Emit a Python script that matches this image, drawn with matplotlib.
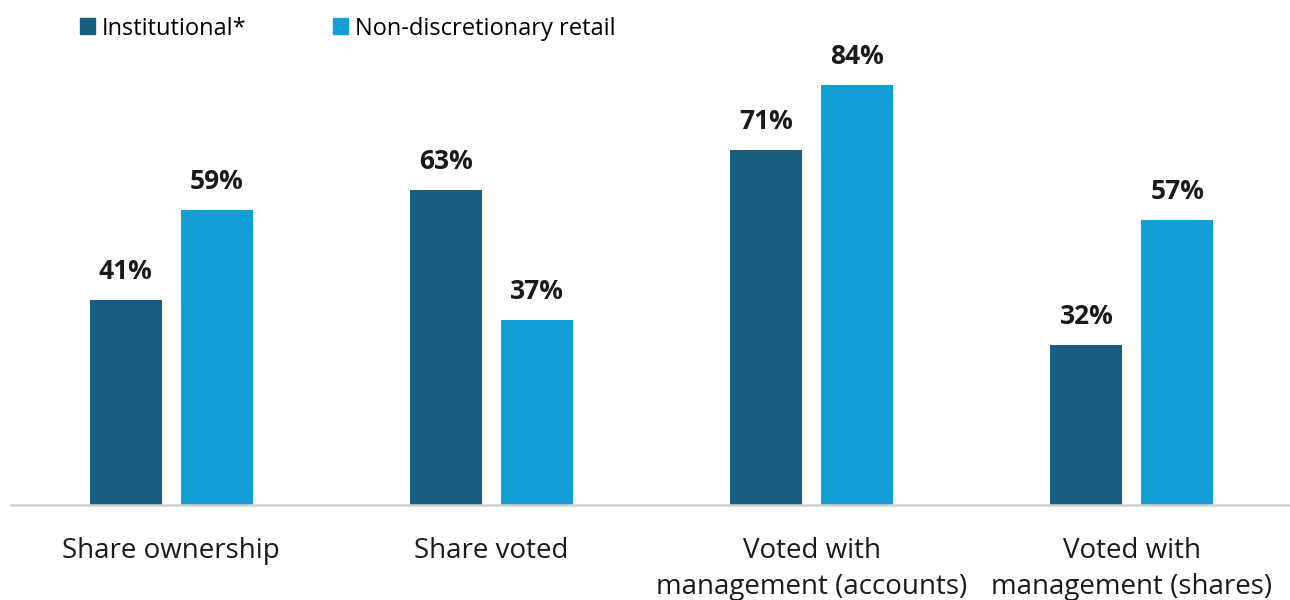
import matplotlib
matplotlib.use("Agg")
import matplotlib.pyplot as plt
import numpy as np
from matplotlib.patches import Patch

categories = ["Share ownership", "Share voted", "Voted with\nmanagement (accounts)", "Voted with\nmanagement (shares)"]
series_names = ["Institutional*", "Non-discretionary retail"]
institutional = [41, 63, 71, 32]
retail = [59, 37, 84, 57]
colors = ["#165F82", "#129FD7"]

plt.rcParams['font.family'] = ['Open Sans', 'DejaVu Sans']

fig = plt.figure(figsize=(12.9, 6.0), dpi=100)
ax = fig.add_axes([11/1290, 95/600, 1 - 11/1290 + 2/1290, 500/600])

x = np.arange(len(categories))
w = 0.225
off = 0.142
b1 = ax.bar(x - off, institutional, w, color=colors[0])
b2 = ax.bar(x + off, retail, w, color=colors[1])

for bars, vals in ((b1, institutional), (b2, retail)):
    for rect, v in zip(bars, vals):
        ax.annotate(f"{v}%", (rect.get_x() + rect.get_width() / 2, v),
                    xytext=(0, 11), textcoords="offset points",
                    ha="center", va="bottom", fontsize=19, fontweight="bold", color="#1a1a1a")

ax.set_xlim(-0.5, len(categories) - 0.5)
ax.set_ylim(0, 100)
ax.set_yticks([])
ax.set_xticks(x)
ax.set_xticklabels(categories, fontsize=20, color="#1a1a1a", linespacing=1.4)
ax.tick_params(axis="x", length=0, pad=23)
for s in ["top", "right", "left"]:
    ax.spines[s].set_visible(False)
ax.spines["bottom"].set_color("#D0D0D0")
ax.spines["bottom"].set_linewidth(1.8)

handles = [Patch(color=c) for c in colors]
fig.legend(handles, series_names, loc="upper left", bbox_to_anchor=(68/1290, 0.992),
           ncol=2, frameon=False, fontsize=17, handlelength=0.65, handleheight=0.65,
           handletextpad=0.3, columnspacing=3.65, borderaxespad=0.1)

fig.savefig("out.png", dpi=100)
